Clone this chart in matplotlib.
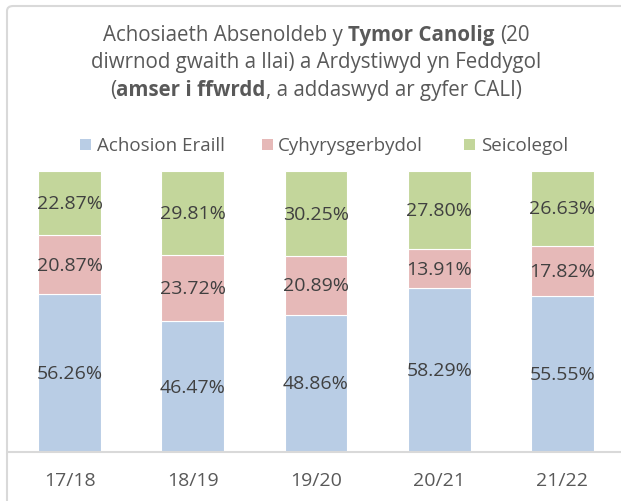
import matplotlib.pyplot as plt
from matplotlib.patches import FancyBboxPatch, Rectangle

years = ["17/18", "18/19", "19/20", "20/21", "21/22"]
series = ["Achosion Eraill", "Cyhyrysgerbydol", "Seicolegol"]
eraill = [56.26, 46.47, 48.86, 58.29, 55.55]
cyhyr = [20.87, 23.72, 20.89, 13.91, 17.82]
seicol = [22.87, 29.81, 30.25, 27.80, 26.63]
colors = ["#b9cde5", "#e6b9b8", "#c3d69b"]

txt = "#595959"
lbl = "#404040"
plt.rcParams['font.family'] = ['Open Sans', 'DejaVu Sans']

fig = plt.figure(figsize=(6.21, 5.02), dpi=100)
W, H = 621, 502

# chart border (only top/left visible in the crop)
fig.patches.append(FancyBboxPatch((7 / W, -0.1), 1.2, (H - 7) / H + 0.1,
                                  boxstyle="round,pad=0,rounding_size=0.01",
                                  transform=fig.transFigure, fill=False,
                                  edgecolor="#d9d9d9", linewidth=1.5))

ax = fig.add_axes([8 / W, (H - 453) / H, 616 / W, (453 - 172) / H])
x = range(len(years))
bottom = [0] * len(years)
for vals, c in zip([eraill, cyhyr, seicol], colors):
    bars = ax.bar(x, vals, width=0.51, bottom=bottom, color=c,
                  edgecolor="white", linewidth=0.8)
    ax.bar_label(bars, labels=[f"{v:.2f}%" for v in vals], label_type="center",
                 color=lbl, fontsize=14)
    bottom = [b + v for b, v in zip(bottom, vals)]

ax.set_xlim(-0.5, 4.5)
ax.set_ylim(0, 100)
ax.set_yticks([])
ax.set_xticks(list(x))
ax.set_xticklabels(years, color=txt, fontsize=14)
ax.tick_params(axis="x", length=0, pad=14)
for s in ["top", "right", "left"]:
    ax.spines[s].set_visible(False)
ax.spines["bottom"].set_color("#d9d9d9")
ax.spines["bottom"].set_linewidth(1.5)

# title with bold parts
title_lines = [
    [("Achosiaeth Absenoldeb y", "normal", True), ("Tymor Canolig", "bold", True), ("(20", "normal", False)],
    [("diwrnod gwaith a llai) a Ardystiwyd yn Feddygol", "normal", False)],
    [("(", "normal", False), ("amser i ffwrdd", "bold", False), (", a addaswyd ar gyfer CALI)", "normal", False)],
]
title_base = [41, 68, 96]
fsize = 14.8
r = fig.canvas.get_renderer()
sp = fig.text(0, 0, "a a", fontsize=fsize)
nsp = fig.text(0, 0, "aa", fontsize=fsize)
space = sp.get_window_extent(r).width - nsp.get_window_extent(r).width
sp.remove()
nsp.remove()
for line, yy in zip(title_lines, title_base):
    objs = []
    total = 0
    for s, w, gap in line:
        t = fig.text(0, 1 - yy / H, s, fontsize=fsize, fontweight=w, color=txt, va="baseline")
        wd = t.get_window_extent(r).width
        objs.append((t, wd, gap))
        total += wd + (space if gap else 0)
    xpos = 316 - total / 2
    for t, wd, gap in objs:
        t.set_x(xpos / W)
        xpos += wd + (space if gap else 0)

# legend
leg_sq = [80, 262, 464]
leg_tx = [97, 278, 481]
for name, c, sx, tx in zip(series, colors, leg_sq, leg_tx):
    fig.patches.append(Rectangle((sx / W, 1 - 150.5 / H), 11 / W, 11 / H,
                                 transform=fig.transFigure, facecolor=c, edgecolor="none"))
    fig.text(tx / W, 1 - 151 / H, name, fontsize=13.5, color=txt, va="baseline")

fig.savefig("out.png", dpi=100)
